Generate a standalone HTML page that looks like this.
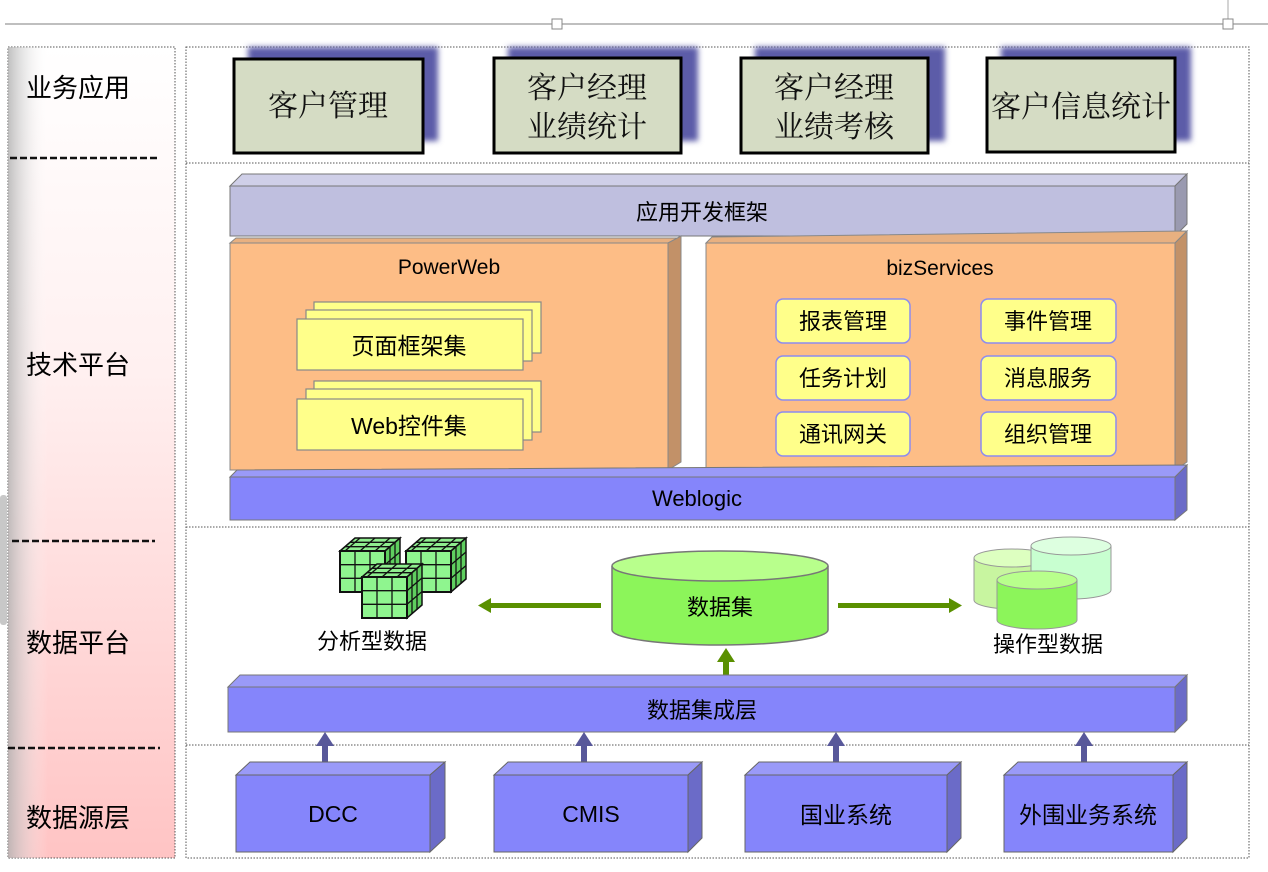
<!DOCTYPE html>
<html><head><meta charset="utf-8"><style>
html,body{margin:0;padding:0;background:#fff;}
svg{display:block;}
text{font-family:"Liberation Sans","Noto Sans CJK SC",sans-serif;}
.serif{font-family:"Liberation Serif","Noto Serif CJK SC",serif;}
</style></head><body>
<svg width="1268" height="872" viewBox="0 0 1268 872" xmlns="http://www.w3.org/2000/svg">
<defs>
<linearGradient id="lp" x1="0" y1="0" x2="0" y2="1">
<stop offset="0" stop-color="#ffffff"/><stop offset="0.4" stop-color="#fff0f0"/><stop offset="1" stop-color="#ffc4c4"/>
</linearGradient>
<linearGradient id="le" x1="0" y1="0" x2="1" y2="0">
<stop offset="0" stop-color="#b0b0b0" stop-opacity="0.8"/><stop offset="1" stop-color="#ffffff" stop-opacity="0"/>
</linearGradient>
<filter id="bl"><feGaussianBlur stdDeviation="3"/></filter>
<g id="cube">
<polygon points="0,0 15,-13 60,-13 45,0" fill="#8fee8f" stroke="#111" stroke-width="1.5"/>
<polygon points="45,0 60,-13 60,28 45,41" fill="#5fcf5f" stroke="#111" stroke-width="1.5"/>
<rect x="0" y="0" width="45" height="41" fill="#8ff58f" stroke="#111" stroke-width="2"/>
<path d="M15,0V41M30,0V41M0,13.7H45M0,27.3H45M5,-4.3H50M10,-8.7H55M20,-13L5,0M35,-13L20,0M50,-13L35,0M50,-4.3V37M55,-8.7V32.7M45,13.7L60,1M45,27.3L60,14.6" stroke="#111" stroke-width="1.3" fill="none"/>
</g>
</defs>
<rect width="1268" height="872" fill="#fff"/>
<line x1="5" y1="24" x2="1268" y2="24" stroke="#aaa" stroke-width="1.5"/>
<line x1="1228" y1="0" x2="1228" y2="20" stroke="#aaa"/>
<rect x="552" y="19" width="10" height="10" fill="#fff" stroke="#888"/>
<rect x="1223" y="19" width="10" height="10" fill="#fff" stroke="#888"/>
<rect x="8" y="47" width="167" height="811" fill="url(#lp)" stroke="#555" stroke-dasharray="1.5 1.5"/>
<rect x="8" y="47" width="40" height="811" fill="url(#le)"/>
<rect x="0" y="495" width="7" height="130" rx="3" fill="#c8c8c8"/>
<text x="26" y="97" font-size="26">业务应用</text>
<text x="26" y="374" font-size="26">技术平台</text>
<text x="26" y="652" font-size="26">数据平台</text>
<text x="26" y="827" font-size="26">数据源层</text>
<line x1="10" y1="158" x2="160" y2="158" stroke="#111" stroke-width="2.5" stroke-dasharray="7 3"/>
<line x1="12" y1="541" x2="155" y2="541" stroke="#111" stroke-width="2.5" stroke-dasharray="7 3"/>
<line x1="8" y1="748" x2="160" y2="748" stroke="#111" stroke-width="2.5" stroke-dasharray="7 3"/>
<rect x="186" y="47" width="1063" height="811" fill="#fff" stroke="#555" stroke-dasharray="1.5 1.5"/>
<g stroke="#555" stroke-dasharray="1.5 1.5"><line x1="186" y1="163" x2="1249" y2="163"/><line x1="186" y1="527" x2="1249" y2="527"/><line x1="186" y1="745" x2="1249" y2="745"/></g>
<g fill="#5c5ca8" filter="url(#bl)">
<rect x="248" y="47" width="190" height="94"/><rect x="508" y="47" width="190" height="94"/><rect x="755" y="47" width="190" height="94"/><rect x="1001" y="47" width="190" height="94"/>
</g>
<g fill="#d5dcc4" stroke="#000" stroke-width="3">
<rect x="234" y="59" width="189" height="94"/><rect x="494" y="58" width="187" height="95"/><rect x="741" y="58" width="187" height="95"/><rect x="987" y="58" width="188" height="94"/>
</g>
<g font-size="30" text-anchor="middle" fill="#111">
<text x="328" y="116" class="serif">客户管理</text>
<text x="587" y="98" class="serif">客户经理</text><text x="587" y="137" class="serif">业绩统计</text>
<text x="834" y="98" class="serif">客户经理</text><text x="834" y="137" class="serif">业绩考核</text>
<text x="1081" y="117" class="serif">客户信息统计</text>
</g>
<polygon points="230,186 242,174 1187,174 1175,186" fill="#cfcfe8" stroke="#777"/>
<polygon points="1175,186 1187,174 1187,224 1175,236" fill="#9a9ab0" stroke="#777"/>
<rect x="230" y="186" width="945" height="50" fill="#bfbfdf" stroke="#777"/>
<text x="702" y="220" font-size="22" text-anchor="middle">应用开发框架</text>
<polygon points="230,243 236,238 681,238 668,243" fill="#e8b080" stroke="#888"/>
<polygon points="668,243 681,236 681,462 668,470" fill="#c29168" stroke="#888"/>
<rect x="230" y="243" width="438" height="227" fill="#fdbd86" stroke="#888"/>
<text x="449" y="274" font-size="21" text-anchor="middle">PowerWeb</text>
<g fill="#ffff8a" stroke="#888" stroke-width="1.2">
<rect x="314" y="302" width="227" height="51"/><rect x="306" y="310" width="226" height="51"/><rect x="297" y="319" width="226" height="51"/>
<rect x="314" y="381" width="227" height="51"/><rect x="306" y="389" width="226" height="51"/><rect x="297" y="399" width="226" height="51"/>
</g>
<text x="409" y="354" font-size="23" text-anchor="middle">页面框架集</text>
<text x="409" y="434" font-size="23" text-anchor="middle">Web控件集</text>
<polygon points="706,243 712,237 1187,231 1175,243" fill="#e8b080" stroke="#888"/>
<polygon points="1175,243 1187,231 1187,462 1175,470" fill="#c29168" stroke="#888"/>
<rect x="706" y="243" width="469" height="227" fill="#fdbd86" stroke="#888"/>
<text x="940" y="275" font-size="21" text-anchor="middle">bizServices</text>
<g fill="#ffff8a" stroke="#8c8cf0" stroke-width="1.5">
<rect x="776" y="299" width="134" height="44" rx="7"/><rect x="981" y="299" width="135" height="44" rx="7"/>
<rect x="776" y="356" width="134" height="44" rx="7"/><rect x="981" y="356" width="135" height="44" rx="7"/>
<rect x="776" y="412" width="134" height="44" rx="7"/><rect x="981" y="412" width="135" height="44" rx="7"/>
</g>
<g font-size="22" text-anchor="middle">
<text x="843" y="329">报表管理</text><text x="1048" y="329">事件管理</text>
<text x="843" y="386">任务计划</text><text x="1048" y="386">消息服务</text>
<text x="843" y="442">通讯网关</text><text x="1048" y="442">组织管理</text>
</g>
<polygon points="230,477 237,470 1187,465 1175,477" fill="#9a9af8" stroke="#777"/>
<polygon points="1175,477 1187,465 1187,510 1175,520" fill="#6b6bc8" stroke="#777"/>
<rect x="230" y="477" width="945" height="43" fill="#8585fb" stroke="#777"/>
<text x="697" y="506" font-size="22" text-anchor="middle">Weblogic</text>
<use href="#cube" x="340" y="551"/>
<use href="#cube" x="406" y="551"/>
<use href="#cube" x="362" y="577"/>
<text x="372" y="649" font-size="22" text-anchor="middle">分析型数据</text>
<path d="M612,566 V630 A108,15 0 0 0 828,630 V566" fill="#8cf55a" stroke="#777" stroke-width="1.5"/>
<ellipse cx="720" cy="566" rx="108" ry="15" fill="#b8ff8c" stroke="#777" stroke-width="1.5"/>
<text x="720" y="615" font-size="22" text-anchor="middle">数据集</text>
<path d="M974,558 V600 A38,9 0 0 0 1050,600 V558" fill="#c8f5a0" stroke="#999"/>
<ellipse cx="1012" cy="558" rx="38" ry="9" fill="#ddffc0" stroke="#999"/>
<path d="M1031,546 V590 A40,9 0 0 0 1111,590 V546" fill="#c8ffd0" stroke="#999"/>
<ellipse cx="1071" cy="546" rx="40" ry="9" fill="#ddffe0" stroke="#999"/>
<path d="M997,580 V620 A40,9 0 0 0 1077,620 V580" fill="#8cf55a" stroke="#999"/>
<ellipse cx="1037" cy="580" rx="40" ry="9" fill="#b8ff8c" stroke="#999"/>
<text x="1048" y="652" font-size="22" text-anchor="middle">操作型数据</text>
<g fill="#5a9000">
<rect x="490" y="603" width="111" height="5"/><polygon points="478,605.5 491,598 491,613"/>
<rect x="838" y="603" width="112" height="5"/><polygon points="962,605.5 949,598 949,613"/>
<rect x="723" y="660" width="6" height="22"/><polygon points="726,648 717,662 735,662"/>
</g>
<polygon points="228,687 240,675 1187,675 1175,687" fill="#9a9af8" stroke="#777"/>
<polygon points="1175,687 1187,675 1187,720 1175,732" fill="#6b6bc8" stroke="#777"/>
<rect x="228" y="687" width="947" height="45" fill="#8585fb" stroke="#777"/>
<text x="702" y="718" font-size="22" text-anchor="middle">数据集成层</text>
<g fill="#58589a">
<rect x="322" y="744" width="6" height="22"/><polygon points="325,732 316,746 334,746"/>
<rect x="581" y="744" width="6" height="22"/><polygon points="584,732 575,746 593,746"/>
<rect x="833" y="744" width="6" height="22"/><polygon points="836,732 827,746 845,746"/>
<rect x="1081" y="744" width="6" height="22"/><polygon points="1084,732 1075,746 1093,746"/>
</g>
<g stroke="#666">
<polygon points="236,775 250,762 445,762 430,775" fill="#9a9af8"/><polygon points="430,775 445,762 445,838 430,852" fill="#6b6bc8"/><rect x="236" y="775" width="194" height="77" fill="#8585fb"/>
<polygon points="494,775 508,762 702,762 688,775" fill="#9a9af8"/><polygon points="688,775 702,762 702,838 688,852" fill="#6b6bc8"/><rect x="494" y="775" width="194" height="77" fill="#8585fb"/>
<polygon points="745,775 759,762 961,762 947,775" fill="#9a9af8"/><polygon points="947,775 961,762 961,838 947,852" fill="#6b6bc8"/><rect x="745" y="775" width="202" height="77" fill="#8585fb"/>
<polygon points="1004,775 1018,762 1187,762 1173,775" fill="#9a9af8"/><polygon points="1173,775 1187,762 1187,838 1173,852" fill="#6b6bc8"/><rect x="1004" y="775" width="169" height="77" fill="#8585fb"/>
</g>
<g font-size="23" text-anchor="middle">
<text x="333" y="822">DCC</text><text x="591" y="822">CMIS</text><text x="846" y="823">国业系统</text><text x="1088" y="823">外围业务系统</text>
</g>
</svg>
</body></html>
